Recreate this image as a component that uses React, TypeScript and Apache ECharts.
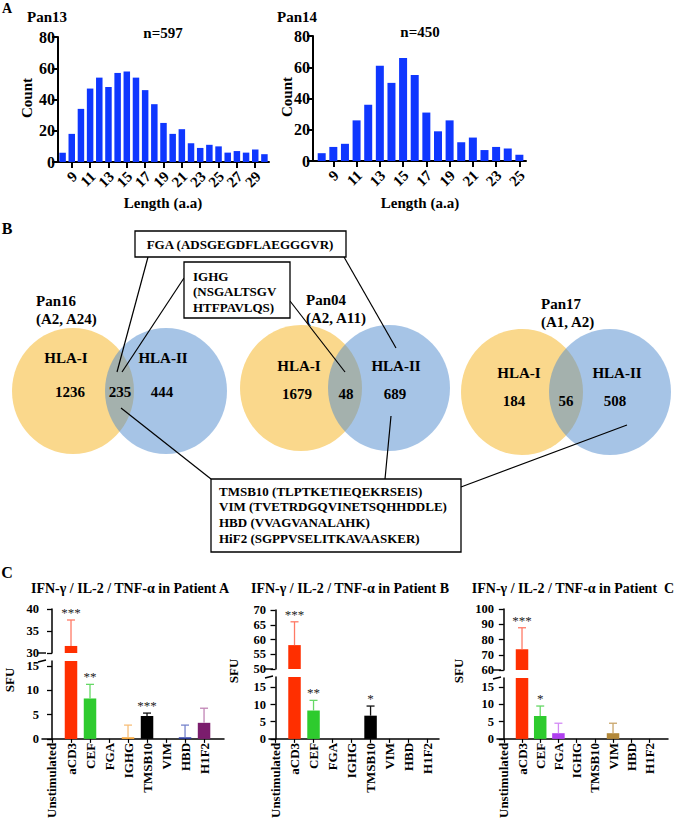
import React, { useEffect, useRef } from "react";
import * as echarts from "echarts";

// ---------- DATA ----------
const pan13Lengths = [8, 9, 10, 11, 12, 13, 14, 15, 16, 17, 18, 19, 20, 21, 22, 23, 24, 25, 26, 27, 28, 29, 30];
const pan13Counts = [6, 18, 34, 47, 54, 48, 57, 58, 54, 46, 37, 25, 18, 21, 12, 9, 11, 10, 6, 7, 6, 8, 5];
const pan14Lengths = [8, 9, 10, 11, 12, 13, 14, 15, 16, 17, 18, 19, 20, 21, 22, 23, 24, 25];
const pan14Counts = [5, 9, 11, 26, 36, 61, 50, 66, 55, 31, 19, 26, 12, 15, 7, 9, 8, 4];
const pan13TickLabels = [9, 11, 13, 15, 17, 19, 21, 23, 25, 27, 29];
const pan14TickLabels = [9, 11, 13, 15, 17, 19, 21, 23, 25];
const countTicks = [0, 20, 40, 60, 80];

const vennNames = ["Pan16", "Pan04", "Pan17"];
const vennHLA = ["(A2, A24)", "(A2, A11)", "(A1, A2)"];
const vennOnlyI = [1236, 1679, 184];
const vennBoth = [235, 48, 56];
const vennOnlyII = [444, 689, 508];

const stimuli = ["Unstimulated", "aCD3", "CEF", "FGA", "IGHG", "TMSB10", "VIM", "HBD", "H1F2"];
const patientAMean = [0, 31.6, 8.3, 0, 0.33, 4.7, 0, 0.33, 3.3];
const patientAErr = [0, 5.9, 2.9, 0, 2.5, 0.6, 0, 2.5, 3.0];
const patientASig = ["", "***", "**", "", "", "***", "", "", ""];
const patientBMean = [0, 58.1, 8.25, 0, 0, 6.75, 0, 0, 0];
const patientBErr = [0, 7.9, 2.95, 0, 0, 2.8, 0, 0, 0];
const patientBSig = ["", "***", "**", "", "", "*", "", "", ""];
const patientCMean = [0, 73.6, 6.65, 1.65, 0, 0, 1.65, 0, 0];
const patientCErr = [0, 14.1, 2.9, 2.9, 0, 0, 2.9, 0, 0];
const patientCSig = ["", "***", "*", "", "", "", "", "", ""];
const patientTitles = [
  "IFN-γ / IL-2 / TNF-α in Patient A",
  "IFN-γ / IL-2 / TNF-α in Patient B",
  "IFN-γ / IL-2 / TNF-α in Patient  C",
];
const lowerTicks = [0, 5, 10, 15];
const upperTicksA = [30, 35, 40];
const upperTicksB = [50, 55, 60, 65, 70];
const upperTicksC = [60, 70, 80, 90, 100];

const fgaText = "FGA (ADSGEGDFLAEGGGVR)";
const ighgLines = ["IGHG", "(NSGALTSGV", "HTFPAVLQS)"];
const sharedLines = [
  "TMSB10 (TLPTKETIEQEKRSEIS)",
  "VIM (TVETRDGQVINETSQHHDDLE)",
  "HBD (VVAGVANALAHK)",
  "HiF2 (SGPPVSELITKAVAASKER)",
];

// ---------- STYLE ----------
const FONT = "Liberation Serif";
const BLUE = "#0f37ff";
const barColors = ["#000", "#ff2f00", "#2ecb2e", "#b03ff0", "#f2a43a", "#000000", "#b3893a", "#2b3ca3", "#7b1d6d"];
const errColors = ["#000", "#ff7a66", "#66d866", "#d38af5", "#f7bf7a", "#111111", "#c9a56a", "#7784cc", "#c184b5"];

const txt = (text: string, x: number, y: number, o: any = {}) => ({
  type: "text",
  x,
  y,
  rotation: o.rot ?? 0,
  z: 20,
  style: {
    text,
    fontSize: o.size ?? 15,
    fontWeight: o.weight ?? "bold",
    fontFamily: FONT,
    fill: "#000",
    align: o.align ?? "center",
    verticalAlign: "middle",
  },
});
const seg = (x1: number, y1: number, x2: number, y2: number, w = 1.2) => ({
  type: "line",
  z: 15,
  shape: { x1, y1, x2, y2 },
  style: { stroke: "#000", lineWidth: w },
});
const box = (x: number, y: number, w: number, h: number) => ({
  type: "rect",
  z: 16,
  shape: { x, y, width: w, height: h },
  style: { fill: "#fff", stroke: "#000", lineWidth: 1.3 },
});

function histX(gridIndex: number, min: number, max: number, ticks: number[]) {
  return {
    type: "value",
    gridIndex,
    min,
    max,
    axisLine: { show: true, onZero: false, lineStyle: { color: "#000", width: 2 } },
    axisTick: { show: true, length: 6, customValues: ticks, lineStyle: { color: "#000", width: 2 } },
    axisLabel: { show: false, customValues: ticks },
    splitLine: { show: false },
  };
}
function histY(gridIndex: number) {
  return {
    type: "value",
    gridIndex,
    min: 0,
    max: 80,
    axisLine: { show: true, lineStyle: { color: "#000", width: 2 } },
    axisTick: { show: true, length: 6, customValues: countTicks, lineStyle: { color: "#000", width: 2 } },
    axisLabel: { customValues: countTicks, fontSize: 16, fontWeight: "bold", fontFamily: FONT, color: "#000", margin: 3 },
    splitLine: { show: false },
  };
}
// rotated x tick labels placed through the axis scale
function tickLabelSeries(axisIdx: number, ticks: number[]) {
  return {
    type: "custom",
    xAxisIndex: axisIdx,
    yAxisIndex: axisIdx,
    clip: false,
    silent: true,
    data: ticks.map((t) => [t, 0]),
    renderItem: (_p: any, api: any) => {
      const v = api.value(0);
      const c = api.coord([v, 0]);
      return {
        type: "text",
        x: c[0] + 3,
        y: c[1] + 12,
        rotation: Math.PI / 4,
        style: {
          text: String(v),
          align: "right",
          verticalAlign: "middle",
          fontSize: 15,
          fontWeight: "bold",
          fontFamily: FONT,
          fill: "#000",
        },
      };
    },
  };
}

const panels = [
  { mean: patientAMean, err: patientAErr, sig: patientASig, upTicks: upperTicksA, left: 42, right: 224, upTop: 609, upBottom: 653, lowTop: 661, lowBottom: 741, upMin: 30, upMax: 40, lowMax: 16, xMin: -0.526, xMax: 9.05, titleX: 130, sfuX: 9, sfuY: 680 },
  { mean: patientBMean, err: patientBErr, sig: patientBSig, upTicks: upperTicksB, left: 269, right: 439, upTop: 610, upBottom: 669, lowTop: 677, lowBottom: 742, upMin: 50, upMax: 70, lowMax: 18, xMin: -0.342, xMax: 8.6, titleX: 350, sfuX: 233, sfuY: 671 },
  { mean: patientCMean, err: patientCErr, sig: patientCSig, upTicks: upperTicksC, left: 497, right: 668, upTop: 609, upBottom: 670, lowTop: 678, lowBottom: 739, upMin: 60, upMax: 100, lowMax: 17.7, xMin: -0.374, xMax: 9.02, titleX: 573, sfuX: 458, sfuY: 671 },
];

function buildOption() {
  const grid: any[] = [
    { left: 58, top: 37, width: 211, height: 125 },
    { left: 313, top: 36, width: 213, height: 125 },
  ];
  const xAxis: any[] = [histX(0, 7.5, 30.5, pan13TickLabels), histX(1, 7.252, 25.57, pan14TickLabels)];
  const yAxis: any[] = [histY(0), histY(1)];
  const series: any[] = [
    {
      type: "bar",
      xAxisIndex: 0,
      yAxisIndex: 0,
      barWidth: 6.5,
      data: pan13Lengths.map((l, i) => [l, pan13Counts[i]]),
      itemStyle: { color: BLUE },
    },
    {
      type: "bar",
      xAxisIndex: 1,
      yAxisIndex: 1,
      barWidth: 8,
      data: pan14Lengths.map((l, i) => [l, pan14Counts[i]]),
      itemStyle: { color: BLUE },
    },
    tickLabelSeries(0, pan13TickLabels),
    tickLabelSeries(1, pan14TickLabels),
  ];
  const graphic: any[] = [];
  const idxs = stimuli.map((_, i) => i);

  panels.forEach((p, k) => {
    const gu = 2 + k * 2;
    const gl = gu + 1;
    grid.push({ left: p.left, top: p.upTop, width: p.right - p.left, height: p.upBottom - p.upTop });
    grid.push({ left: p.left, top: p.lowTop, width: p.right - p.left, height: p.lowBottom - p.lowTop });
    xAxis.push({ type: "value", gridIndex: gu, min: p.xMin, max: p.xMax, show: false, splitLine: { show: false } });
    xAxis.push({
      type: "value",
      gridIndex: gl,
      min: p.xMin,
      max: p.xMax,
      axisLine: { show: true, onZero: false, lineStyle: { color: "#000", width: 1.5 } },
      axisTick: { show: true, length: 4, customValues: idxs, lineStyle: { color: "#000", width: 1.2 } },
      axisLabel: {
        customValues: idxs,
        interval: 0,
        hideOverlap: false,
        formatter: (v: number) => stimuli[Math.round(v)],
        rotate: 90,
        fontSize: 13,
        fontWeight: "bold",
        fontFamily: FONT,
        color: "#000",
        margin: 4,
      },
      splitLine: { show: false },
    });
    const yCommon = (ticks: number[]) => ({
      axisLine: { show: true, lineStyle: { color: "#000", width: 1.5 } },
      axisTick: { show: true, length: 5, customValues: ticks, lineStyle: { color: "#000", width: 1.3 } },
      axisLabel: { customValues: ticks, fontSize: 12.5, fontWeight: "bold", fontFamily: FONT, color: "#000", margin: 3 },
      splitLine: { show: false },
    });
    yAxis.push({ type: "value", gridIndex: gu, min: p.upMin, max: p.upMax, ...yCommon(p.upTicks) });
    yAxis.push({ type: "value", gridIndex: gl, min: 0, max: p.lowMax, ...yCommon(lowerTicks) });

    series.push({
      type: "bar",
      xAxisIndex: gu,
      yAxisIndex: gu,
      barWidth: 12.5,
      clip: true,
      data: p.mean.map((m, i) => (m > p.upMin ? { value: [i, m], itemStyle: { color: barColors[i] } } : { value: [i, "-"] })),
    });
    series.push({
      type: "bar",
      xAxisIndex: gl,
      yAxisIndex: gl,
      barWidth: 12.5,
      clip: true,
      data: p.mean.map((m, i) => ({ value: [i, m], itemStyle: { color: barColors[i] } })),
    });

    const errSeries = (g: number, yMin: number, yMax: number) => {
      const data: number[][] = [];
      p.mean.forEach((m, i) => {
        const top = m + p.err[i];
        if ((p.err[i] > 0 || p.sig[i]) && top > yMin && top <= yMax) data.push([i, m, p.err[i]]);
      });
      return {
        type: "custom",
        xAxisIndex: g,
        yAxisIndex: g,
        clip: false,
        z: 5,
        data,
        renderItem: (_params: any, api: any) => {
          const i = api.value(0);
          const m = api.value(1);
          const e = api.value(2);
          const base = Math.max(m, yMin);
          const p0 = api.coord([i, base]);
          const p1 = api.coord([i, m + e]);
          const children: any[] = [];
          if (e > 0) {
            children.push({ type: "line", shape: { x1: p0[0], y1: p0[1], x2: p1[0], y2: p1[1] }, style: { stroke: errColors[i], lineWidth: 1.3 } });
            children.push({ type: "line", shape: { x1: p1[0] - 4, y1: p1[1], x2: p1[0] + 4, y2: p1[1] }, style: { stroke: errColors[i], lineWidth: 1.3 } });
          }
          if (p.sig[i]) {
            children.push({
              type: "text",
              x: p1[0],
              y: p1[1] - 1,
              style: { text: p.sig[i], fontSize: 13, fontFamily: FONT, fill: "#222", align: "center", verticalAlign: "bottom" },
            });
          }
          return { type: "group", children };
        },
      };
    };
    series.push(errSeries(gu, p.upMin, p.upMax));
    series.push(errSeries(gl, 0, p.lowMax));

    // axis break marks
    graphic.push(seg(p.left - 4, p.upBottom, p.left + 4, p.upBottom, 1.4));
    graphic.push(seg(p.left - 4, p.lowTop + 1, p.left + 4, p.lowTop - 1, 1.4));
    graphic.push(txt(patientTitles[k], p.titleX, 588, { size: 14 }));
    graphic.push(txt("SFU", p.sfuX, p.sfuY, { size: 13, rot: Math.PI / 2 }));
  });

  // Panel labels & histogram texts
  graphic.push(txt("A", 7, 8, { size: 14 }));
  graphic.push(txt("B", 7, 228, { size: 16 }));
  graphic.push(txt("C", 7, 572, { size: 16 }));
  graphic.push(txt("Pan13", 27, 17, { size: 15, align: "left" }));
  graphic.push(txt("n=597", 163, 33, { size: 15 }));
  graphic.push(txt("Pan14", 277, 17, { size: 15, align: "left" }));
  graphic.push(txt("n=450", 420, 32, { size: 15 }));
  graphic.push(txt("Count", 27, 98, { size: 15, rot: Math.PI / 2 }));
  graphic.push(txt("Count", 287, 97, { size: 15, rot: Math.PI / 2 }));
  graphic.push(txt("Length (a.a)", 163, 203, { size: 15 }));
  graphic.push(txt("Length (a.a)", 420, 203, { size: 15 }));

  // Venn diagrams
  const venn = [
    { yx: 73, bx: 166, cy: 391, lx: 36, ly: 301, iy: 358, ny: 392, ix: 66, i1x: 70, bothX: 120, iix: 163, i2x: 162 },
    { yx: 301, bx: 389, cy: 388, lx: 306, ly: 300, iy: 366, ny: 394, ix: 299, i1x: 297, bothX: 346, iix: 396, i2x: 395 },
    { yx: 522, bx: 610, cy: 392, lx: 541, ly: 304, iy: 373, ny: 401, ix: 519, i1x: 514, bothX: 566, iix: 617, i2x: 615 },
  ];
  venn.forEach((v, k) => {
    graphic.push({ type: "ellipse", z: 10, shape: { cx: v.yx, cy: v.cy, rx: 61, ry: 63 }, style: { fill: "rgb(250,216,140)" } });
    graphic.push({ type: "ellipse", z: 11, shape: { cx: v.bx, cy: v.cy, rx: 61, ry: 63 }, style: { fill: "rgba(77,137,205,0.5)" } });
    graphic.push(txt(vennNames[k], v.lx, v.ly, { align: "left" }));
    graphic.push(txt(vennHLA[k], v.lx, v.ly + 18, { align: "left" }));
    graphic.push(txt("HLA-I", v.ix, v.iy));
    graphic.push(txt("HLA-II", v.iix, v.iy));
    graphic.push(txt(String(vennOnlyI[k]), v.i1x, v.ny));
    graphic.push(txt(String(vennBoth[k]), v.bothX, v.ny));
    graphic.push(txt(String(vennOnlyII[k]), v.i2x, v.ny));
  });

  // callout lines
  graphic.push(seg(148, 257, 117, 372));
  graphic.push(seg(344, 257, 396, 348));
  graphic.push(seg(184, 278, 122, 372));
  graphic.push(seg(290, 301, 345, 372));
  graphic.push(seg(121, 408, 211, 479));
  graphic.push(seg(391, 416, 385, 479));
  graphic.push(seg(461, 487, 627, 425));

  // boxes
  graphic.push(box(135, 231, 211, 26));
  graphic.push(txt(fgaText, 240, 244, { size: 13 }));
  graphic.push(box(184, 262, 106, 56));
  ighgLines.forEach((t, i) => graphic.push(txt(t, 193, 276 + i * 15.5, { size: 13, align: "left" })));
  graphic.push(box(211, 479, 250, 73));
  sharedLines.forEach((t, i) => graphic.push(txt(t, 219, 491 + i * 15.7, { size: 13, align: "left" })));

  return {
    animation: false,
    backgroundColor: "#fff",
    textStyle: { fontFamily: FONT },
    grid,
    xAxis,
    yAxis,
    series,
    graphic,
  };
}

export default function App() {
  const ref = useRef<HTMLDivElement>(null);
  useEffect(() => {
    document.body.style.margin = "0";
    const chart = echarts.init(ref.current as HTMLDivElement, null, { renderer: "svg" });
    chart.setOption(buildOption() as any);
    return () => chart.dispose();
  }, []);
  return <div ref={ref} style={{ width: 674, height: 821 }} />;
}
